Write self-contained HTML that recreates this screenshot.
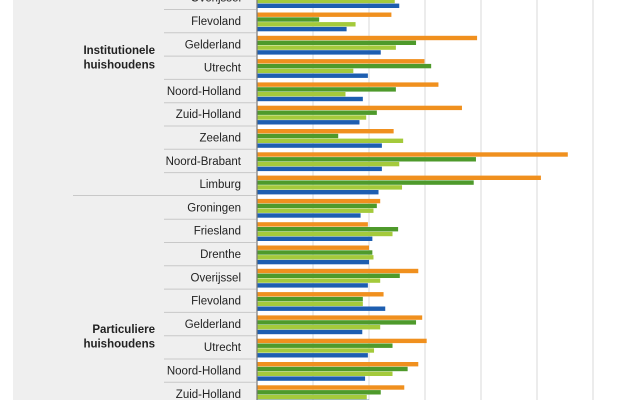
<!DOCTYPE html>
<html><head><meta charset="utf-8"><style>
html,body{margin:0;padding:0;background:#fff;}
svg{display:block;font-family:"Liberation Sans",sans-serif;}
</style></head><body>
<svg id="chart" width="640" height="400" viewBox="0 0 640 400">
<rect x="13" y="0" width="244" height="400" fill="#efefef"/>
<g id="grid"></g>
<g id="bars"></g>
<g id="labels"></g>
<line x1="257" y1="0" x2="257" y2="400" stroke="#777" stroke-width="1.2"/>
<line x1="73" y1="195.5" x2="256" y2="195.5" stroke="#c8c8c8" stroke-width="1"/>
<text x="155" y="54" text-anchor="end" font-size="11.5" font-weight="bold" fill="#222"><tspan x="155">Institutionele</tspan><tspan x="155" dy="14.5">huishoudens</tspan></text>
<text x="155" y="333" text-anchor="end" font-size="11.5" font-weight="bold" fill="#222"><tspan x="155">Particuliere</tspan><tspan x="155" dy="14.5">huishoudens</tspan></text>
</svg>
<script>
const categories=["Overijssel","Flevoland","Gelderland","Utrecht","Noord-Holland","Zuid-Holland","Zeeland","Noord-Brabant","Limburg","Groningen","Friesland","Drenthe","Overijssel","Flevoland","Gelderland","Utrecht","Noord-Holland","Zuid-Holland"];
const seriesOrange=[30,24.0,39.3,29.9,32.4,36.6,24.4,55.5,50.7,22.0,19.8,20.0,28.8,22.6,29.5,30.3,28.8,26.3];
const seriesDarkGreen=[28,11.1,28.4,31.1,24.8,21.4,14.5,39.1,38.7,21.4,25.2,20.6,25.5,18.9,28.4,24.2,26.9,22.1];
const seriesLightGreen=[24.6,17.6,24.8,17.2,15.8,19.5,26.1,25.4,25.9,20.8,24.2,20.8,22.0,18.9,22.0,20.9,24.2,19.6];
const seriesBlue=[25.4,16.0,22.1,19.8,18.9,18.3,22.3,22.3,21.7,18.5,20.6,20.0,19.8,22.9,18.8,19.8,19.3,20.0];
const gridTicks=[10,20,30,40,50,60];
const NS="http://www.w3.org/2000/svg";
const x0=257, pxPerUnit=5.6, rowH=23.3, rowStart=-14.3;
const xScale=v=>x0+v*pxPerUnit;
const rowY=i=>rowStart+i*rowH;
const grid=document.getElementById('grid');
gridTicks.forEach(t=>{
  const l=document.createElementNS(NS,'line');
  l.setAttribute('x1',xScale(t));l.setAttribute('x2',xScale(t));
  l.setAttribute('y1',0);l.setAttribute('y2',400);
  l.setAttribute('stroke','#d9d9d9');l.setAttribute('stroke-width','1');
  
  
  grid.appendChild(l);
});
const series=[[seriesOrange,'#f0901e',3.5,'orange'],[seriesDarkGreen,'#4e9a2b',8.3,'dark-green'],[seriesLightGreen,'#a4ca3b',13.1,'light-green'],[seriesBlue,'#1d5eb0',17.9,'blue']];
const bars=document.getElementById('bars');
const labels=document.getElementById('labels');
categories.forEach((c,i)=>{
  const y=rowY(i);
  series.forEach(([arr,col,off,nm])=>{
    const r=document.createElementNS(NS,'rect');
    r.setAttribute('x',x0);r.setAttribute('y',y+off);
    r.setAttribute('width',Math.max(0,xScale(arr[i])-x0));r.setAttribute('height',4.4);
    r.setAttribute('fill',col);
    
    
    bars.appendChild(r);
  });
  const t=document.createElementNS(NS,'text');
  t.setAttribute('x',241);t.setAttribute('y',y+16);
  t.setAttribute('text-anchor','end');t.setAttribute('font-size','11.5');t.setAttribute('fill','#222');
  t.textContent=c;
  
  
  labels.appendChild(t);
  if(i!==8){
    const s=document.createElementNS(NS,'line');
    s.setAttribute('x1',164);s.setAttribute('x2',256);
    s.setAttribute('y1',y+rowH+0.5);s.setAttribute('y2',y+rowH+0.5);
    s.setAttribute('stroke','#c8c8c8');s.setAttribute('stroke-width','1');
    
    
    labels.appendChild(s);
  }
});
</script>
</body></html>
